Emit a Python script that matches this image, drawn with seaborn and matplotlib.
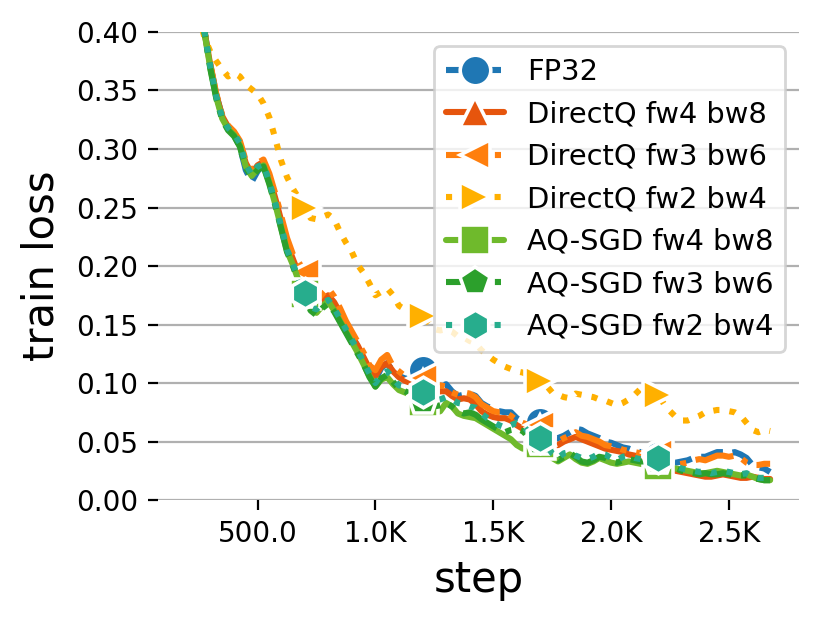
import numpy as np
import pandas as pd
import matplotlib
matplotlib.use("Agg")
import matplotlib.pyplot as plt
from matplotlib.ticker import FuncFormatter, MultipleLocator
import seaborn as sns

steps = list(range(200, 2700, 25))

labels = ["FP32", "DirectQ fw4 bw8", "DirectQ fw3 bw6", "DirectQ fw2 bw4",
          "AQ-SGD fw4 bw8", "AQ-SGD fw3 bw6", "AQ-SGD fw2 bw4"]

fp32 = [0.470, 0.445, 0.420, 0.400, 0.371, 0.346, 0.328, 0.318, 0.312, 0.302,
        0.282, 0.272, 0.281, 0.287, 0.273, 0.256, 0.236, 0.216, 0.204, 0.191,
        0.180, 0.166, 0.164, 0.170, 0.174, 0.167, 0.158, 0.149, 0.140, 0.131,
        0.121, 0.110, 0.103, 0.113, 0.117, 0.110, 0.106, 0.104, 0.103, 0.105,
        0.111, 0.100, 0.094, 0.097, 0.099, 0.093, 0.089, 0.090, 0.091, 0.089,
        0.083, 0.080, 0.078, 0.076, 0.075, 0.075, 0.070, 0.067, 0.066, 0.068,
        0.067, 0.056, 0.052, 0.053, 0.055, 0.058, 0.061, 0.060, 0.057, 0.055,
        0.053, 0.050, 0.049, 0.047, 0.045, 0.044, 0.042, 0.041, 0.040, 0.039,
        0.038, 0.036, 0.033, 0.032, 0.033, 0.034, 0.036, 0.037, 0.037, 0.039,
        0.041, 0.041, 0.040, 0.041, 0.039, 0.036, 0.030, 0.028, 0.027, 0.024]

dq_fw4_bw8 = [0.470, 0.446, 0.421, 0.400, 0.371, 0.346, 0.328, 0.319, 0.314, 0.305,
              0.288, 0.279, 0.286, 0.289, 0.276, 0.258, 0.239, 0.219, 0.206, 0.193,
              0.182, 0.169, 0.166, 0.171, 0.175, 0.169, 0.160, 0.150, 0.140, 0.132,
              0.122, 0.112, 0.106, 0.114, 0.117, 0.110, 0.105, 0.102, 0.100, 0.099,
              0.098, 0.094, 0.091, 0.093, 0.093, 0.089, 0.086, 0.087, 0.086, 0.082,
              0.076, 0.073, 0.071, 0.070, 0.070, 0.068, 0.064, 0.061, 0.060, 0.061,
              0.060, 0.052, 0.047, 0.047, 0.050, 0.052, 0.054, 0.052, 0.050, 0.048,
              0.046, 0.044, 0.043, 0.042, 0.041, 0.039, 0.038, 0.036, 0.034, 0.032,
              0.031, 0.028, 0.026, 0.025, 0.024, 0.023, 0.022, 0.021, 0.020, 0.020,
              0.021, 0.022, 0.021, 0.020, 0.019, 0.019, 0.020, 0.019, 0.018, 0.018]

dq_fw3_bw6 = [0.470, 0.446, 0.421, 0.401, 0.372, 0.347, 0.329, 0.320, 0.315, 0.307,
              0.290, 0.282, 0.288, 0.291, 0.279, 0.262, 0.243, 0.224, 0.210, 0.203,
              0.195, 0.176, 0.170, 0.176, 0.181, 0.174, 0.164, 0.153, 0.144, 0.135,
              0.126, 0.115, 0.111, 0.120, 0.124, 0.114, 0.110, 0.106, 0.104, 0.104,
              0.104, 0.097, 0.095, 0.098, 0.097, 0.092, 0.090, 0.092, 0.091, 0.088,
              0.082, 0.079, 0.076, 0.075, 0.075, 0.072, 0.068, 0.066, 0.064, 0.065,
              0.064, 0.054, 0.050, 0.050, 0.053, 0.055, 0.058, 0.055, 0.054, 0.052,
              0.050, 0.047, 0.046, 0.045, 0.043, 0.042, 0.041, 0.040, 0.039, 0.039,
              0.040, 0.034, 0.031, 0.030, 0.031, 0.032, 0.034, 0.035, 0.034, 0.036,
              0.038, 0.038, 0.037, 0.038, 0.036, 0.032, 0.030, 0.030, 0.031, 0.031]

dq_fw2_bw4 = [0.470, 0.440, 0.415, 0.395, 0.383, 0.375, 0.368, 0.362, 0.365, 0.362,
              0.355, 0.351, 0.347, 0.339, 0.327, 0.309, 0.290, 0.276, 0.266, 0.258,
              0.250, 0.241, 0.240, 0.242, 0.244, 0.240, 0.229, 0.220, 0.212, 0.201,
              0.194, 0.185, 0.175, 0.178, 0.181, 0.175, 0.166, 0.163, 0.161, 0.159,
              0.157, 0.152, 0.146, 0.145, 0.146, 0.144, 0.140, 0.139, 0.136, 0.134,
              0.128, 0.124, 0.120, 0.117, 0.114, 0.112, 0.110, 0.109, 0.107, 0.105,
              0.102, 0.098, 0.092, 0.090, 0.088, 0.087, 0.091, 0.090, 0.089, 0.088,
              0.086, 0.085, 0.083, 0.081, 0.083, 0.086, 0.090, 0.095, 0.097, 0.093,
              0.090, 0.082, 0.076, 0.071, 0.068, 0.068, 0.070, 0.072, 0.075, 0.076,
              0.077, 0.077, 0.076, 0.075, 0.072, 0.066, 0.060, 0.058, 0.060, 0.059]

aq_fw4_bw8 = [0.470, 0.446, 0.421, 0.399, 0.369, 0.344, 0.326, 0.317, 0.312, 0.303,
              0.285, 0.277, 0.283, 0.286, 0.271, 0.253, 0.233, 0.213, 0.201, 0.187,
              0.176, 0.163, 0.160, 0.166, 0.170, 0.162, 0.153, 0.144, 0.135, 0.126,
              0.116, 0.106, 0.097, 0.103, 0.105, 0.099, 0.094, 0.092, 0.090, 0.087,
              0.084, 0.078, 0.074, 0.076, 0.083, 0.080, 0.074, 0.072, 0.071, 0.070,
              0.067, 0.064, 0.061, 0.058, 0.055, 0.052, 0.047, 0.044, 0.044, 0.046,
              0.048, 0.042, 0.036, 0.033, 0.036, 0.039, 0.035, 0.032, 0.031, 0.033,
              0.036, 0.034, 0.032, 0.031, 0.032, 0.033, 0.032, 0.031, 0.030, 0.030,
              0.029, 0.028, 0.027, 0.027, 0.026, 0.025, 0.024, 0.023, 0.023, 0.024,
              0.025, 0.024, 0.023, 0.022, 0.021, 0.022, 0.020, 0.018, 0.017, 0.017]

aq_fw3_bw6 = [0.470, 0.446, 0.421, 0.400, 0.368, 0.343, 0.325, 0.316, 0.311, 0.302,
              0.284, 0.276, 0.282, 0.285, 0.270, 0.252, 0.232, 0.212, 0.200, 0.186,
              0.175, 0.162, 0.158, 0.164, 0.168, 0.161, 0.152, 0.143, 0.134, 0.125,
              0.116, 0.105, 0.097, 0.104, 0.107, 0.101, 0.095, 0.093, 0.091, 0.088,
              0.085, 0.082, 0.080, 0.081, 0.083, 0.080, 0.076, 0.074, 0.075, 0.073,
              0.069, 0.066, 0.063, 0.060, 0.058, 0.060, 0.061, 0.059, 0.054, 0.052,
              0.050, 0.044, 0.038, 0.034, 0.037, 0.040, 0.037, 0.033, 0.032, 0.034,
              0.037, 0.036, 0.033, 0.032, 0.034, 0.035, 0.034, 0.033, 0.033, 0.034,
              0.033, 0.030, 0.028, 0.027, 0.025, 0.024, 0.023, 0.022, 0.023, 0.022,
              0.022, 0.023, 0.022, 0.021, 0.021, 0.021, 0.019, 0.018, 0.017, 0.017]

aq_fw2_bw4 = [0.470, 0.445, 0.420, 0.400, 0.370, 0.345, 0.327, 0.318, 0.313, 0.305,
              0.287, 0.278, 0.285, 0.287, 0.272, 0.254, 0.234, 0.214, 0.202, 0.188,
              0.177, 0.165, 0.163, 0.168, 0.171, 0.164, 0.155, 0.146, 0.137, 0.128,
              0.118, 0.108, 0.100, 0.107, 0.110, 0.104, 0.098, 0.097, 0.096, 0.094,
              0.092, 0.088, 0.085, 0.086, 0.088, 0.086, 0.083, 0.082, 0.080, 0.079,
              0.074, 0.070, 0.067, 0.064, 0.062, 0.064, 0.066, 0.064, 0.058, 0.055,
              0.053, 0.047, 0.040, 0.036, 0.040, 0.041, 0.038, 0.036, 0.035, 0.037,
              0.040, 0.039, 0.036, 0.034, 0.037, 0.038, 0.036, 0.035, 0.036, 0.038,
              0.036, 0.032, 0.030, 0.029, 0.027, 0.026, 0.025, 0.024, 0.025, 0.023,
              0.024, 0.025, 0.024, 0.023, 0.022, 0.023, 0.020, 0.019, 0.019, 0.018]

series = [fp32, dq_fw4_bw8, dq_fw3_bw6, dq_fw2_bw4, aq_fw4_bw8, aq_fw3_bw6, aq_fw2_bw4]
colors = ["#1f77b4", "#e6550d", "#ff7f0e", "#ffb000", "#6fba2c", "#2ca02c", "#27ad8d"]
styles = ["--", "-", "-.", ":", "-", "-.", ":"]
markers = ["o", "^", "<", ">", "s", "p", "h"]

sns.set_style("whitegrid")
plt.rcParams["font.family"] = ["DejaVu Sans"]
plt.rcParams["text.color"] = "black"
plt.rcParams["axes.labelcolor"] = "black"
plt.rcParams["xtick.color"] = "black"
plt.rcParams["ytick.color"] = "black"

fig, ax = plt.subplots(figsize=(4.15, 3.11), dpi=200)
fig.subplots_adjust(left=0.19, right=0.963, top=0.9486, bottom=0.196)

for lab, vals, c, ls, m in zip(labels, series, colors, styles, markers):
    sns.lineplot(x=steps, y=vals, ax=ax, color=c, linestyle=ls, linewidth=2.2,
                 marker=m, markevery=20, markersize=11, markeredgecolor="white",
                 markeredgewidth=1.3, label=lab)

ax.set_ylim(0, 0.40)
ax.yaxis.set_major_locator(MultipleLocator(0.05))
ax.xaxis.set_major_locator(MultipleLocator(500))
ax.yaxis.set_major_formatter(FuncFormatter(lambda v, p: f"{v:.2f}"))
ax.xaxis.set_major_formatter(
    FuncFormatter(lambda v, p: f"{v/1000:.1f}K" if v >= 1000 else f"{v:.1f}"))

ax.grid(axis="x", visible=False)
ax.grid(axis="y", color="#b0b0b0", linewidth=0.8)
sns.despine(ax=ax, left=True, bottom=True)
ax.tick_params(axis="both", which="major", bottom=True, left=True, length=3.5,
               width=0.8, color="black", labelsize=10, labelcolor="black")

ax.set_xlabel("step", fontsize=15, color="black")
ax.set_ylabel("train loss", fontsize=15, labelpad=5, color="black")

leg = ax.legend(loc="upper right", fontsize=10.4, frameon=True, framealpha=0.8)
for t in leg.get_texts():
    t.set_color("black")

fig.savefig("out.png", dpi=200)
